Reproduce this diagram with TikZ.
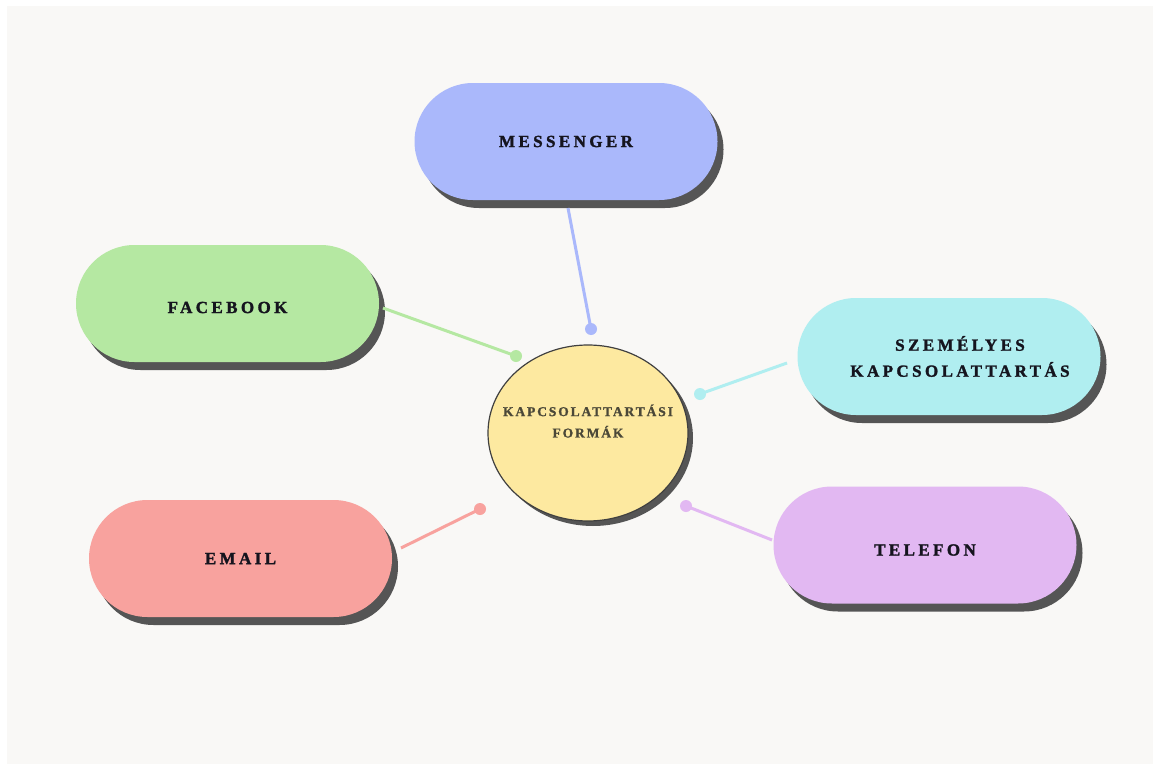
\documentclass[tikz,border=0pt]{standalone}
\usepackage{fontspec}
\newfontfamily\pillfontface[LetterSpace=20,FakeBold=1.6]{Liberation Serif Bold}
\newfontfamily\hubfontface[LetterSpace=14,FakeBold=1.2]{Liberation Serif Bold}
\usetikzlibrary{shapes.misc,shapes.geometric,shadows}
\definecolor{paper}{HTML}{F9F8F6}
\definecolor{shade}{HTML}{555555}
\definecolor{cmsg}{HTML}{AAB8FB}
\definecolor{cfb}{HTML}{B5E8A2}
\definecolor{cszem}{HTML}{B0EEF0}
\definecolor{ctel}{HTML}{E2B8F2}
\definecolor{cmail}{HTML}{F8A29E}
\definecolor{chub}{HTML}{FDE9A0}
\definecolor{hubtext}{HTML}{4B4838}
\definecolor{pilltext}{HTML}{15141E}
\tikzset{
  pill/.style={rounded rectangle, minimum width=303pt, minimum height=117pt,
    inner sep=0pt, align=center, text=pilltext,
    font=\pillfontface\fontsize{17}{20}\selectfont,
    drop shadow={shadow xshift=6pt, shadow yshift=-8pt, fill=shade, opacity=1}},
  hub/.style={ellipse, minimum width=200pt, minimum height=176pt, inner sep=0pt,
    fill=chub, draw=black!75, line width=1.2pt, text=hubtext,
    font=\hubfontface\fontsize{13.5}{16}\selectfont,
    drop shadow={shadow xshift=5pt, shadow yshift=-5pt, fill=shade, opacity=1}},
  link/.style={line width=3pt},
  knob/.style={circle, inner sep=0pt, minimum size=12pt}
}
\begin{document}
\begin{tikzpicture}[x=1pt,y=-1pt]
\useasboundingbox (0,0) rectangle (1160,771);
\fill[white] (0,0) rectangle (1160,771);
\fill[paper] (7,6) rectangle (1153,764);

\node[hub] (hub) at (588,433) {\raisebox{6pt}[0pt][0pt]{\makebox[0pt]{\begin{tabular}{@{}c@{}}KAPCSOLATTARTÁSI\\[5pt]FORMÁK\end{tabular}}}};

\node[pill, fill=cmsg] (msg) at (566,141.5) {MESSENGER};
\node[pill, fill=cfb] (fb) at (227.5,303.5) {\raisebox{-4pt}[\height][\depth]{FACEBOOK}};
\node[pill, fill=cszem] (szem) at (949,356.5) {\hspace*{22pt}SZEMÉLYES\\[6pt]\hspace*{22pt}KAPCSOLATTARTÁS};
\node[pill, fill=ctel] (tel) at (925,545) {\raisebox{-5pt}[\height][\depth]{TELEFON}};
\node[pill, fill=cmail] (mail) at (240.5,558.5) {EMAIL};

\coordinate (smsg) at (568,208);
\coordinate (sfb) at (383,308);
\coordinate (sszem) at (787,363);
\coordinate (stel) at (772,540);
\coordinate (smail) at (401,548);

\node[knob, fill=cmsg] (kmsg) at (591,329) {};
\node[knob, fill=cfb] (kfb) at (516,356) {};
\node[knob, fill=cszem] (kszem) at (700,394) {};
\node[knob, fill=ctel] (ktel) at (686,506) {};
\node[knob, fill=cmail] (kmail) at (480,509) {};

\draw[link, cmsg] (smsg) -- (kmsg.center);
\draw[link, cfb] (sfb) -- (kfb.center);
\draw[link, cszem] (sszem) -- (kszem.center);
\draw[link, ctel] (stel) -- (ktel.center);
\draw[link, cmail] (smail) -- (kmail.center);
\end{tikzpicture}
\end{document}
